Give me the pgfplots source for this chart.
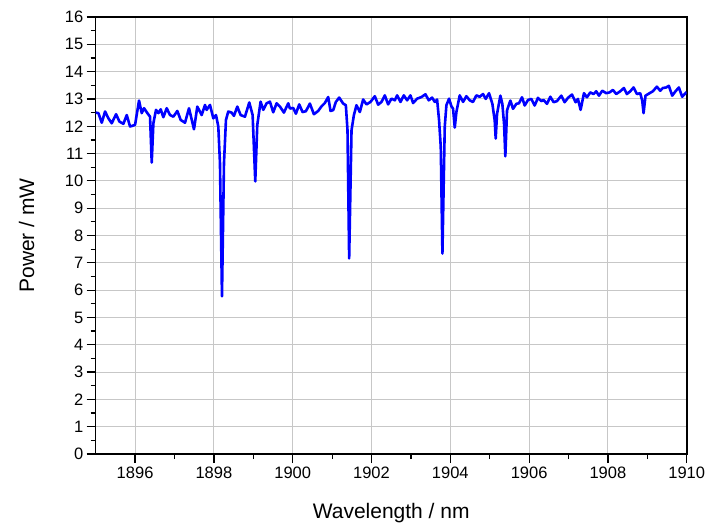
\documentclass[border=0pt]{standalone}
\usepackage{fontspec}
\setmainfont{Liberation Sans}
\usepackage{pgfplots}
\pgfplotsset{compat=1.18}
\usepackage{pgfplotstable}

\pgfplotstableread{
wl     p
1895.000 12.50
1895.069 12.48
1895.154 12.13
1895.238 12.54
1895.323 12.29
1895.407 12.11
1895.517 12.44
1895.602 12.17
1895.703 12.09
1895.788 12.41
1895.872 11.99
1895.999 12.05
1896.100 12.94
1896.168 12.48
1896.227 12.66
1896.312 12.48
1896.379 12.35
1896.422 10.67
1896.464 12.11
1896.531 12.60
1896.591 12.48
1896.650 12.62
1896.717 12.33
1896.802 12.66
1896.886 12.41
1896.971 12.35
1897.072 12.56
1897.157 12.23
1897.267 12.13
1897.368 12.66
1897.495 11.89
1897.579 12.72
1897.689 12.41
1897.774 12.78
1897.816 12.60
1897.901 12.78
1897.985 12.29
1898.053 12.41
1898.112 11.99
1898.154 10.65
1898.205 5.77
1898.256 10.65
1898.306 12.23
1898.365 12.54
1898.450 12.50
1898.509 12.38
1898.594 12.72
1898.678 12.41
1898.788 12.35
1898.898 12.87
1898.983 12.41
1899.050 9.98
1899.101 12.05
1899.185 12.90
1899.253 12.60
1899.337 12.84
1899.422 12.90
1899.506 12.51
1899.591 12.84
1899.676 12.72
1899.777 12.50
1899.887 12.84
1899.929 12.65
1900.013 12.67
1900.081 12.46
1900.166 12.80
1900.250 12.52
1900.335 12.55
1900.436 12.83
1900.538 12.44
1900.647 12.56
1900.732 12.73
1900.816 12.85
1900.901 13.07
1900.960 12.56
1901.028 12.59
1901.095 12.89
1901.180 13.05
1901.281 12.83
1901.349 12.77
1901.391 11.85
1901.433 7.16
1901.493 11.85
1901.552 12.40
1901.619 12.77
1901.704 12.52
1901.788 12.98
1901.873 12.80
1901.974 12.89
1902.084 13.10
1902.169 12.79
1902.253 12.89
1902.338 13.13
1902.422 12.80
1902.507 13.01
1902.591 12.95
1902.650 13.13
1902.735 12.89
1902.819 13.13
1902.904 12.95
1902.989 13.13
1903.056 12.85
1903.158 13.01
1903.268 13.07
1903.369 13.17
1903.453 12.95
1903.538 13.05
1903.606 12.89
1903.665 12.98
1903.715 12.22
1903.758 11.24
1903.800 7.34
1903.859 11.98
1903.901 12.77
1903.969 13.01
1904.028 12.73
1904.070 12.65
1904.113 11.95
1904.155 12.52
1904.239 13.13
1904.324 12.89
1904.408 13.10
1904.493 12.95
1904.577 12.89
1904.662 13.13
1904.746 13.08
1904.831 13.18
1904.899 13.00
1904.983 13.21
1905.068 12.82
1905.127 12.21
1905.152 11.55
1905.186 12.45
1905.271 13.12
1905.321 12.82
1905.364 12.09
1905.397 10.90
1905.440 12.58
1905.524 12.94
1905.592 12.64
1905.676 12.82
1905.744 12.84
1905.820 13.06
1905.888 12.76
1905.972 12.96
1906.057 13.00
1906.141 12.76
1906.225 13.04
1906.310 12.92
1906.369 12.96
1906.454 12.82
1906.538 13.08
1906.623 12.88
1906.707 12.92
1906.817 13.12
1906.902 12.88
1906.986 13.04
1907.088 13.16
1907.181 12.88
1907.240 13.00
1907.307 12.60
1907.392 13.21
1907.468 13.06
1907.553 13.24
1907.637 13.18
1907.705 13.28
1907.772 13.12
1907.857 13.30
1907.958 13.21
1908.043 13.24
1908.127 13.33
1908.212 13.18
1908.313 13.28
1908.406 13.40
1908.482 13.18
1908.567 13.28
1908.651 13.42
1908.736 13.18
1908.820 13.21
1908.871 12.94
1908.905 12.48
1908.955 13.12
1909.057 13.21
1909.141 13.28
1909.243 13.45
1909.327 13.30
1909.395 13.40
1909.479 13.42
1909.547 13.48
1909.632 13.12
1909.716 13.28
1909.801 13.42
1909.885 13.08
1909.970 13.21
1910.000 13.25
}\spectrum

\begin{document}
\begin{tikzpicture}
  \begin{axis}[
    scale only axis,
    width=591pt, height=437pt,
    xmin=1895, xmax=1910,
    ymin=0, ymax=16,
    xtick={1896,1898,...,1910},
    ytick={0,1,...,16},
    minor x tick num=1,
    minor y tick num=1,
    tick align=outside,
    tick pos=left,
    major tick length=9pt,
    minor tick length=5pt,
    every tick/.style={black, line width=1.2pt},
    axis line style={black, line width=1.6pt},
    grid=major,
    major grid style={draw=black!22, line width=1pt},
    /pgf/number format/assume math mode=true,
    /pgf/number format/1000 sep={},
    tick label style={font=\fontsize{16.5}{19}\selectfont},
    label style={font=\fontsize{21}{25}\selectfont},
    xlabel={Wavelength / nm},
    ylabel={Power / mW},
    xlabel style={at={(axis description cs:0.5,0)}, anchor=base, yshift=-64pt},
    ylabel style={at={(axis description cs:-0.1168,0.5)}, anchor=center},
  ]
    \addplot[blue, line width=2.6pt, line join=round, mark=none] table[x=wl, y=p] {\spectrum};
  \end{axis}
  \pgfresetboundingbox
  \path ([shift={(-95.7pt,-74pt)}]current axis.south west)
    rectangle ([shift={(22.3pt,17pt)}]current axis.north east);
\end{tikzpicture}
\end{document}
